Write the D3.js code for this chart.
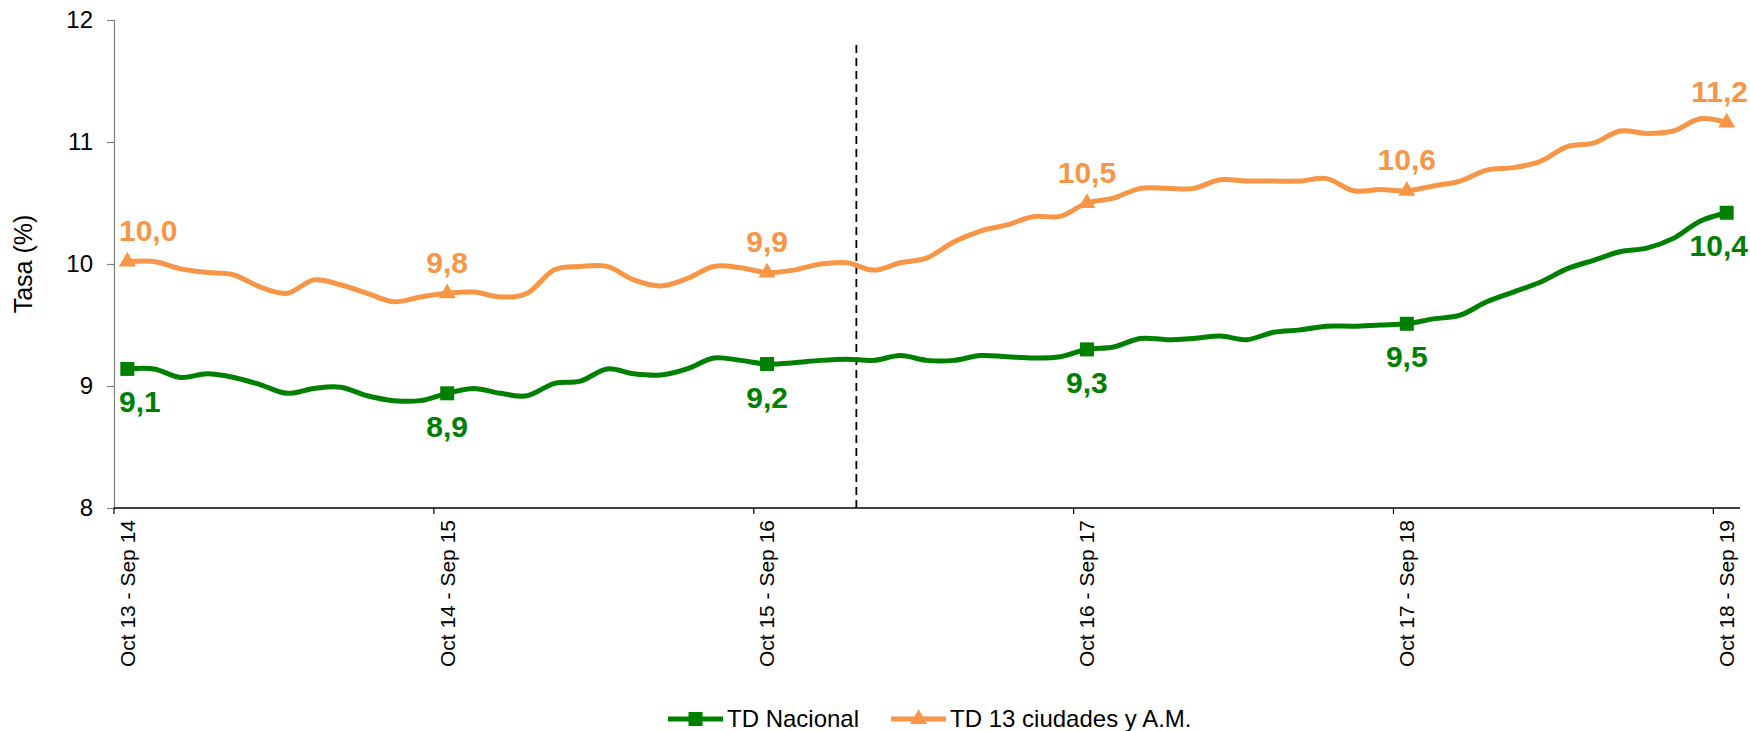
<!DOCTYPE html>
<html>
<head>
<meta charset="utf-8">
<script src="https://cdn.jsdelivr.net/npm/d3@7"></script>
<style>
    body { margin: 0; background: #ffffff; }
    text { font-family: "Liberation Sans", Arial, sans-serif; }
</style>
</head>
<body>
<div id="chart"></div>
<script>

/* Data -------------------------------------------------------------------- */

const months = ["Ene", "Feb", "Mar", "Abr", "May", "Jun",
    "Jul", "Ago", "Sep", "Oct", "Nov", "Dic"];

// Labelled rolling windows, one every twelve months
const tickLabels = [
    "Oct 13 - Sep 14", "Oct 14 - Sep 15", "Oct 15 - Sep 16",
    "Oct 16 - Sep 17", "Oct 17 - Sep 18", "Oct 18 - Sep 19"];

const tdNacional = [
    9.14, 9.14, 9.07, 9.10, 9.07, 9.01, 8.94, 8.98, 8.99, 8.92, 8.88, 8.88,
    8.94, 8.98, 8.94, 8.92, 9.02, 9.04, 9.14, 9.10, 9.09, 9.14, 9.23, 9.21,
    9.18, 9.19, 9.21, 9.22, 9.21, 9.25, 9.21, 9.21, 9.25, 9.24, 9.23, 9.24,
    9.30, 9.32, 9.39, 9.38, 9.39, 9.41, 9.38, 9.44, 9.46, 9.49, 9.49, 9.50,
    9.51, 9.55, 9.58, 9.69, 9.77, 9.85, 9.96, 10.03, 10.10, 10.13, 10.21, 10.35,
    10.42];

const td13Ciudades = [
    10.02, 10.02, 9.96, 9.93, 9.91, 9.81, 9.76, 9.87, 9.83, 9.76, 9.69, 9.73,
    9.76, 9.77, 9.73, 9.76, 9.95, 9.98, 9.98, 9.87, 9.82, 9.88, 9.98, 9.97,
    9.93, 9.95, 10.00, 10.01, 9.95, 10.01, 10.05, 10.18, 10.27, 10.32, 10.39, 10.39,
    10.50, 10.54, 10.62, 10.62, 10.62, 10.69, 10.68, 10.68, 10.68, 10.70, 10.60, 10.61,
    10.60, 10.64, 10.68, 10.77, 10.79, 10.84, 10.96, 10.99, 11.09, 11.07, 11.09, 11.19,
    11.16];

const yTicks = [8, 9, 10, 11, 12];

const seriesNames = ["TD Nacional", "TD 13 ciudades y A.M."];

// Vertical divider, in category units
const dividerAt = 27.35;

/* Settings ---------------------------------------------------------------- */

const settings = {
    width: 1750,
    height: 731,
    margin: { top: 20, right: 10, bottom: 223, left: 114 },
    green: "#008000",
    orange: "#F79646",
    yTickSize: 24,
    xTickSize: 21,
    titleSize: 25,
    labelSize: 30,
    legendSize: 24
};

/* Draw graphic ------------------------------------------------------------ */

function drawGraphic() {

    const margin = settings.margin;
    const plotBottom = settings.height - margin.bottom;
    const plotRight = settings.width - margin.right;

    // Month window names, Oct 13 - Sep 14 onward
    const n = tdNacional.length;
    const categories = d3.range(n).map(i => {
        const s = 9 + i, e = 20 + i;
        return `${months[s % 12]} ${13 + Math.floor(s / 12)} - ` +
            `${months[e % 12]} ${13 + Math.floor(e / 12)}`;
    });
    tickLabels.forEach((t, k) => { categories[k * 12] = t; });

    const xScale = d3.scaleBand()
        .domain(categories)
        .range([margin.left, plotRight])
        .padding(0);

    const cx = i => xScale(categories[i]) + xScale.bandwidth() / 2;

    const yScale = d3.scaleLinear()
        .domain([8, 12])
        .range([plotBottom, margin.top]);

    const svg = d3.select("#chart")
        .append("svg")
        .attr("width", settings.width)
        .attr("height", settings.height);

    svg.append("rect")
        .attr("width", settings.width)
        .attr("height", settings.height)
        .attr("fill", "#ffffff");

    // Y-axis
    const yAxis = svg.append("g")
        .attr("class", "yaxis")
        .attr("transform", `translate(${margin.left},0)`)
        .call(d3.axisLeft(yScale)
            .tickValues(yTicks)
            .tickSize(7)
            .tickPadding(14)
            .tickFormat(d3.format("d")));

    yAxis.select(".domain")
        .attr("stroke", "#808080")
        .attr("stroke-width", 1.2);

    yAxis.selectAll(".tick line")
        .attr("stroke", "#808080")
        .attr("stroke-width", 1.2);

    yAxis.selectAll(".tick text")
        .style("font-size", `${settings.yTickSize}px`)
        .style("font-family", "Liberation Sans, Arial, sans-serif")
        .attr("fill", "#000000");

    // Y-axis title
    svg.append("text")
        .attr("transform", `translate(32,${(margin.top + plotBottom) / 2}) rotate(-90)`)
        .attr("text-anchor", "middle")
        .style("font-size", `${settings.titleSize}px`)
        .attr("fill", "#000000")
        .text("Tasa (%)");

    // X-axis labels
    const labelIdx = d3.range(0, n, 12);

    const xAxis = svg.append("g")
        .attr("class", "xaxis")
        .attr("transform", `translate(0,${plotBottom})`)
        .call(d3.axisBottom(xScale)
            .tickValues(labelIdx.map(i => categories[i]))
            .tickSize(0)
            .tickPadding(0));

    xAxis.select(".domain").remove();

    xAxis.selectAll(".tick text")
        .style("font-size", `${settings.xTickSize}px`)
        .style("font-family", "Liberation Sans, Arial, sans-serif")
        .attr("fill", "#000000")
        .attr("text-anchor", "end")
        .attr("transform", "translate(0,12) rotate(-90)")
        .attr("x", 0)
        .attr("y", 0)
        .attr("dy", "0.35em");

    // X-axis tick marks sit on category boundaries
    svg.append("g")
        .selectAll("line")
        .data(labelIdx)
        .join("line")
        .attr("x1", i => xScale(categories[i]))
        .attr("x2", i => xScale(categories[i]))
        .attr("y1", plotBottom)
        .attr("y2", plotBottom + 6)
        .attr("stroke", "#000000")
        .attr("stroke-width", 1.2);

    svg.append("line")
        .attr("x1", margin.left)
        .attr("x2", plotRight)
        .attr("y1", plotBottom)
        .attr("y2", plotBottom)
        .attr("stroke", "#000000")
        .attr("stroke-width", 1.6);

    // Divider
    const dividerX = margin.left + (dividerAt + 0.5) * xScale.bandwidth();
    svg.append("line")
        .attr("x1", dividerX)
        .attr("x2", dividerX)
        .attr("y1", 45)
        .attr("y2", plotBottom)
        .attr("stroke", "#000000")
        .attr("stroke-width", 1.8)
        .attr("stroke-dasharray", "8,5");

    // Lines
    const line = d3.line()
        .x((d, i) => cx(i))
        .y(d => yScale(d))
        .curve(d3.curveCardinal);

    const series = [
        { name: seriesNames[0], values: tdNacional, color: settings.green,
            symbol: d3.symbolSquare, size: 196, labelDy: 33 },
        { name: seriesNames[1], values: td13Ciudades, color: settings.orange,
            symbol: d3.symbolTriangle, size: 125, labelDy: -31 }
    ];

    series.forEach(s => {
        svg.append("path")
            .datum(s.values)
            .attr("fill", "none")
            .attr("stroke", s.color)
            .attr("stroke-width", 5)
            .attr("stroke-linejoin", "round")
            .attr("d", line);

        svg.append("g")
            .selectAll("path")
            .data(labelIdx)
            .join("path")
            .attr("transform", i => `translate(${cx(i)},${yScale(s.values[i])})`)
            .attr("d", d3.symbol().type(s.symbol).size(s.size))
            .attr("fill", s.color);

        const labels = svg.append("g")
            .selectAll("text")
            .data(labelIdx)
            .join("text")
            .attr("x", i => cx(i))
            .attr("y", i => yScale(s.values[i]) + s.labelDy)
            .attr("dy", "0.35em")
            .attr("text-anchor", "middle")
            .style("font-size", `${settings.labelSize}px`)
            .style("font-weight", "bold")
            .attr("fill", s.color)
            .text(i => s.values[i].toFixed(1).replace(".", ","));

        // Keep labels inside the chart area
        labels.each(function (i) {
            const w = this.getComputedTextLength();
            let x = cx(i);
            x = Math.max(x, margin.left + 5 + w / 2);
            x = Math.min(x, settings.width - 2 - w / 2);
            d3.select(this).attr("x", x);
        });
    });

    // Legend
    const legend = svg.append("g")
        .attr("transform", `translate(668,${settings.height - 12})`);

    let offset = 0;
    series.forEach(s => {
        const g = legend.append("g")
            .attr("transform", `translate(${offset},0)`);

        g.append("line")
            .attr("x1", 0)
            .attr("x2", 55)
            .attr("stroke", s.color)
            .attr("stroke-width", 5);

        g.append("path")
            .attr("transform", "translate(27.5,0)")
            .attr("d", d3.symbol().type(s.symbol).size(s.size))
            .attr("fill", s.color);

        const t = g.append("text")
            .attr("x", 59)
            .attr("dy", "0.35em")
            .style("font-size", `${settings.legendSize}px`)
            .attr("fill", "#000000")
            .text(s.name);

        offset += 59 + t.node().getComputedTextLength() + 32;
    });
}

drawGraphic();

</script>
</body>
</html>
